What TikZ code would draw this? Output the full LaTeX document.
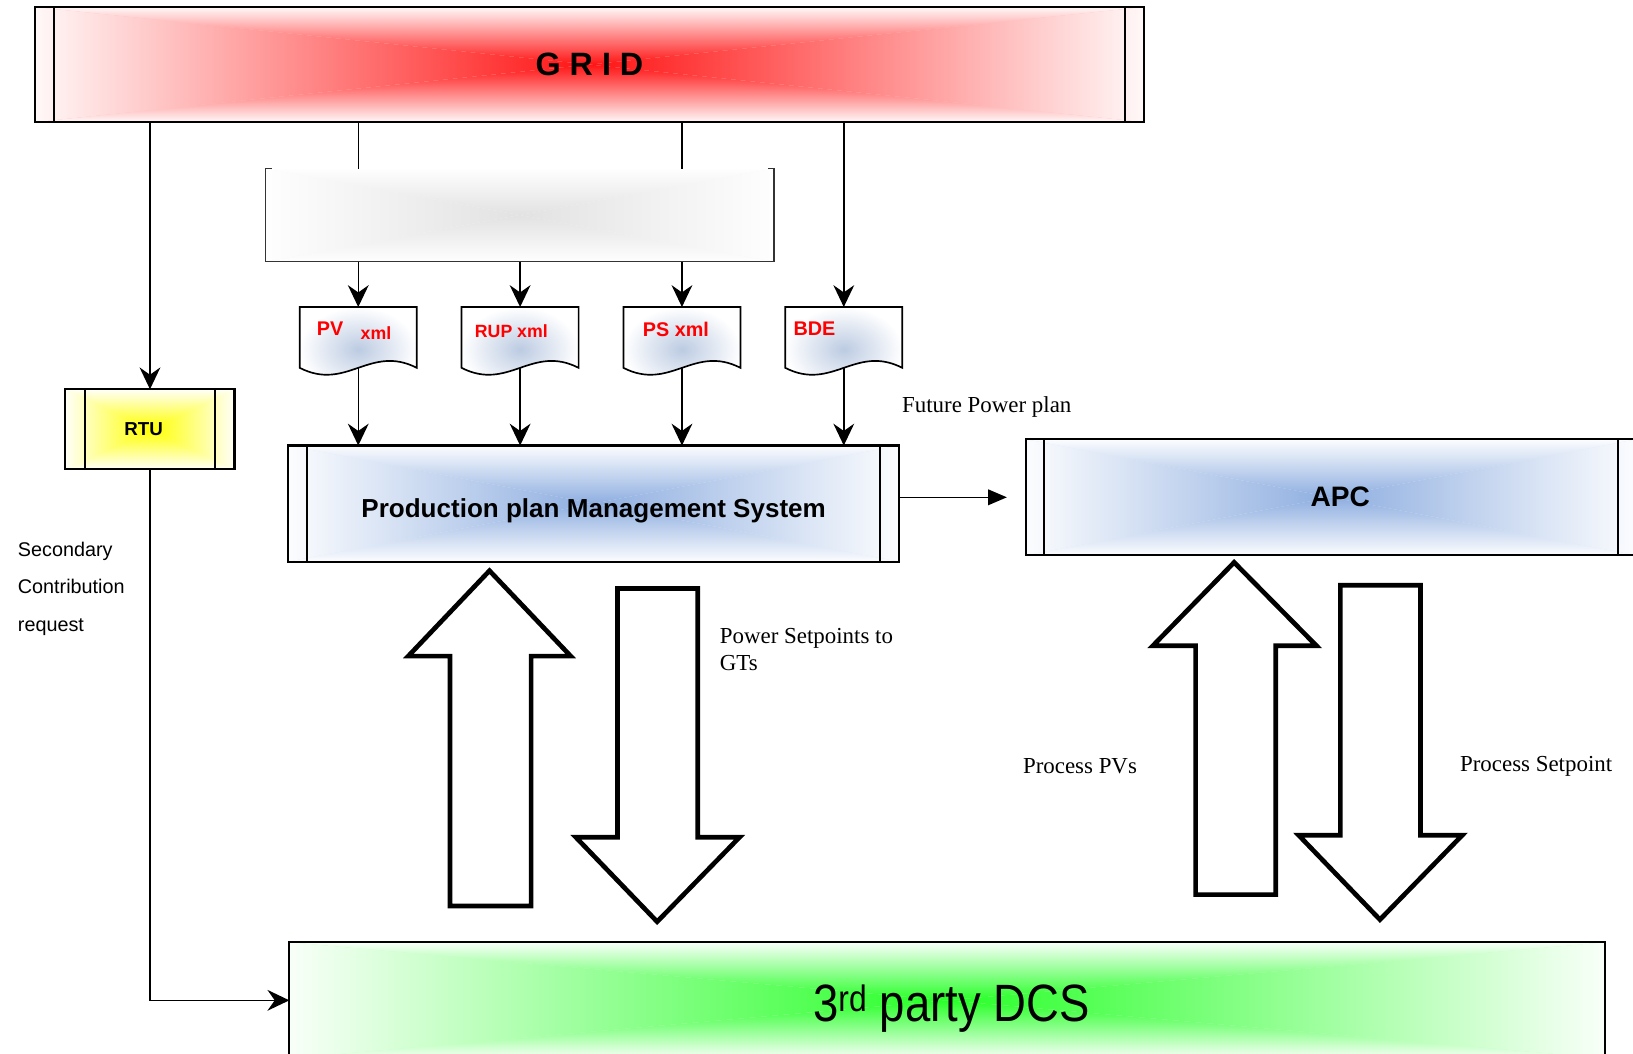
\documentclass[tikz,border=0pt]{standalone}
\usepackage{fontspec}
\setmainfont{Liberation Sans}
\newfontfamily\timesfont{Liberation Serif}
\usepackage{xcolor}
\usetikzlibrary{positioning, arrows.meta}

\definecolor{gridred}{RGB}{255,20,20}
\definecolor{rtuyellow}{RGB}{255,255,0}
\definecolor{apcblue}{RGB}{142,174,224}
\definecolor{dcsgreen}{RGB}{40,255,40}
\definecolor{docblue}{RGB}{188,203,226}
\definecolor{blankgray}{RGB}{226,226,226}

\pgfdeclarelayer{fondo}
\pgfsetlayers{fondo,main}

\begin{document}
\begin{tikzpicture}[x=1pt, y=-1pt, node distance=43pt,
		every node/.style={text=black},
		sysbox/.style={rectangle, inner sep=0pt, minimum height=111pt},
		frame/.style={line width=2pt},
		blankbox/.style={rectangle, minimum width=488pt, minimum height=89pt},
		docbox/.style={rectangle, inner sep=0pt, minimum width=112pt, minimum height=58pt},
		docshape/.style={line width=1.6pt, inner color=docblue, outer color=white},
		doctext/.style={text=red, inner sep=0pt, font=\bfseries\fontsize{19}{22}\selectfont},
		conn/.style={line width=1.4pt, -{Stealth[length=21pt, width=20pt, inset=7pt]}},
		plain/.style={line width=1.4pt},
		conn2/.style={line width=1.4pt, -{Triangle[length=18pt, width=15pt]}},
		bigarrow/.style={draw, line width=4.5pt, fill=white, line join=miter},
		note/.style={inner sep=0pt, font=\timesfont\fontsize{22}{26}\selectfont},
		side/.style={inner sep=0pt, font=\fontsize{19}{36}\selectfont}
		]
		\useasboundingbox (0,0) rectangle (1568,1012);
		
		% Bloques principales
		\node[sysbox, minimum width=1064pt, minimum height=110pt, font=\bfseries\fontsize{31}{36}\selectfont] (grid) at (566,62) {G R I D};
		\node[sysbox, minimum width=162pt, minimum height=76pt, font=\bfseries\fontsize{18}{22}\selectfont, text height=13pt, text depth=0pt] (rtu) at (144,412) {\hspace*{-12pt}RTU};
		\node[blankbox] (blank) at (499,206.5) {};
		\node[sysbox, minimum width=586pt, font=\bfseries\fontsize{25}{30}\selectfont, text height=27pt, text depth=0pt] (ppms) at (570,483.5) {Production plan Management System};
		\node[sysbox, minimum width=586pt, font=\bfseries\fontsize{27}{32}\selectfont] (apc) at (1278,477.5) {\hspace*{18pt}APC};
		\node[sysbox, minimum width=1263pt, font=\fontsize{45}{50}\selectfont, text height=41pt, text depth=0pt] (dcs) at (909.5,960.5) {\hspace*{8pt}\scalebox{0.97}[1.12]{3\textsuperscript{rd} party DCS}};
		
		% degradados desde el centro
		\begin{pgfonlayer}{fondo}
		\foreach \b/\c in {grid/gridred, rtu/rtuyellow, ppms/apcblue, apc/apcblue, dcs/dcsgreen, blank/blankgray} {
			\fill[\c!25] (\b.north west) rectangle (\b.south east);
			\shade[top color=\c!3, bottom color=\c] (\b.north west) -- (\b.north east) -- (\b.center) -- cycle;
			\shade[bottom color=\c!3, top color=\c] (\b.south west) -- (\b.south east) -- (\b.center) -- cycle;
			\shade[left color=\c!3, right color=\c] (\b.north west) -- (\b.south west) -- (\b.center) -- cycle;
			\shade[right color=\c!3, left color=\c] (\b.north east) -- (\b.south east) -- (\b.center) -- cycle;
		}
		\end{pgfonlayer}
		
		% marcos
		\foreach \b/\s in {grid/18, rtu/19, ppms/18, apc/18} {
			\draw[frame] (\b.north west) rectangle (\b.south east);
			\draw[frame] ([xshift=\s pt]\b.north west) -- ([xshift=\s pt]\b.south west);
			\draw[frame] ([xshift=-\s pt]\b.north east) -- ([xshift=-\s pt]\b.south east);
		}
		\draw[frame] (dcs.north west) rectangle (dcs.south east);
		\draw[line width=1.2pt, black!80] ([xshift=6pt]blank.north west) -- (blank.north west) -- (blank.south west)
			-- (blank.south east) -- (blank.north east) -- ([xshift=-6pt]blank.north east);
		
		% documentos
		\node[docbox] (pv) at (344,324) {};
		\node[docbox, right=of pv] (rup) {};
		\node[docbox, right=of rup] (ps) {};
		\node[docbox, right=of ps] (bde) {};
		\foreach \d in {pv, rup, ps, bde}
			\shadedraw[docshape] (\d.north west) -- (\d.north east) -- (\d.south east)
				.. controls +(-45,-23) and +(45,23) .. (\d.south west) -- cycle;
		\node[doctext] (pvname) at (317,316) {PV};
		\node[doctext, font=\bfseries\fontsize{17}{20}\selectfont] (pvxml) at (361,320) {xml};
		\node[doctext, font=\bfseries\fontsize{17}{20}\selectfont] (rupname) at (491,318) {RUP xml};
		\node[doctext] (psname) at (649,316) {PS xml};
		\node[doctext] (bdename) at (782,316) {BDE};
		
		% flechas desde GRID
		\draw[conn] (grid.south -| rtu.north) -- (rtu.north);
		\draw[plain] (grid.south -| pv.north) -- (blank.north -| pv.north);
		\draw[plain] (grid.south -| ps.north) -- (blank.north -| ps.north);
		\draw[conn] (grid.south -| bde.north) -- (bde.north);
		
		% flechas a documentos y al sistema
		\foreach \d in {pv, rup, ps}
			\draw[conn] (blank.south -| \d.north) -- (\d.north);
		\foreach \d in {pv, rup, ps, bde}
			\draw[conn] (\d.south) -- (\d.south |- ppms.north);
		\draw[conn2, shorten >=18pt] (ppms.east |- apc.west) -- (apc.west);
		\draw[conn] (rtu.south) |- (dcs.west);
		
		% flechas grandes
		\draw[bigarrow] (432,870) -- (432,630) -- (392,630) -- (470,548) -- (548,630) -- (510,630) -- (510,870) -- cycle;
		\draw[bigarrow] (593,565) -- (593,804) -- (553,804) -- (631,885) -- (710,804) -- (670,804) -- (670,565) -- cycle;
		\draw[bigarrow] (1148,859) -- (1148,620) -- (1107,620) -- (1185,540) -- (1264,620) -- (1225,620) -- (1225,859) -- cycle;
		\draw[bigarrow] (1287,562) -- (1287,802) -- (1247,802) -- (1325,883) -- (1404,802) -- (1364,802) -- (1364,562) -- cycle;
		
		% textos
		\node[note, anchor=west] (fpp) at (866,391) {Future Power plan};
		\node[note, anchor=west, align=left] (pset) at (691,624) {Power Setpoints to\\GTs};
		\node[note] (ppv) at (1037,736) {Process PVs};
		\node[note] (psp) at (1475,736) {Process Setpoint};
		\node[side, anchor=west, align=left] (scr) at (17,565) {Secondary\\Contribution\\request};
		
	\end{tikzpicture}
\end{document}
